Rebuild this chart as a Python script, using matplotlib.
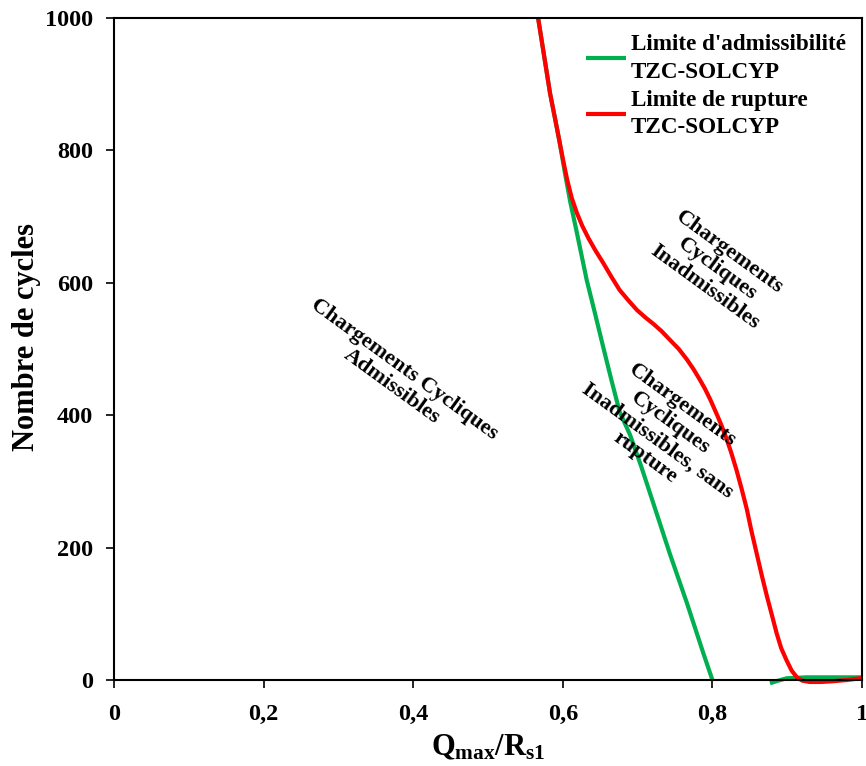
import matplotlib
matplotlib.use("Agg")
import matplotlib.pyplot as plt

plt.rcParams['font.family'] = ['Liberation Serif', 'DejaVu Serif']
plt.rcParams['font.weight'] = 'bold'
plt.rcParams['mathtext.fontset'] = 'custom'
plt.rcParams['mathtext.rm'] = 'Liberation Serif:bold'
plt.rcParams['mathtext.it'] = 'Liberation Serif:bold'
plt.rcParams['mathtext.bf'] = 'Liberation Serif:bold'

# limite d'admissibilite (green)
adm_x = [0.567, 0.575, 0.583, 0.590, 0.596, 0.603, 0.610, 0.618, 0.625, 0.632,
         0.643, 0.654, 0.665, 0.676, 0.690, 0.705, 0.721, 0.743, 0.766, 0.788,
         0.800]
adm_y = [1000, 943, 886, 846, 811, 765, 722, 680, 642, 604, 554, 503, 453, 405,
         370, 322, 267, 191, 116, 40, 0]
adm_tail_x = [0.877, 0.888, 0.899, 0.926, 0.96, 1.0]
adm_tail_y = [-5, -1, 2.5, 4, 4, 4]

# limite de rupture (red)
rup_x = [0.567, 0.575, 0.583, 0.590, 0.596, 0.601, 0.606, 0.612, 0.619, 0.626,
         0.634, 0.643, 0.654, 0.665, 0.676, 0.688, 0.699, 0.710, 0.721, 0.732,
         0.743, 0.755, 0.766, 0.775, 0.783, 0.790, 0.797, 0.806, 0.812, 0.819,
         0.825, 0.832, 0.839, 0.846, 0.852, 0.859, 0.866, 0.873, 0.880, 0.886,
         0.892, 0.899, 0.906, 0.913, 0.920, 0.930, 0.945, 0.960, 0.980, 1.0]
rup_y = [1000, 943, 886, 846, 811, 782, 755, 728, 705, 686,
         668, 650, 630, 609, 589, 573, 559, 548, 538, 527,
         514, 500, 484, 469, 454, 440, 424, 401, 385, 364,
         344, 318, 289, 258, 226, 192, 158, 126, 96, 70,
         48, 30, 14, 4, -1, -3, -3, -2, 0, 3]

x_ticks = [0, 0.2, 0.4, 0.6, 0.8, 1.0]
x_tick_labels = ["0", "0,2", "0,4", "0,6", "0,8", "1"]
y_ticks = [0, 200, 400, 600, 800, 1000]

fig = plt.figure(figsize=(8.66, 7.66), dpi=100)
ax = fig.add_axes([0.1316, 0.1123, 0.8638, 0.8642])

green = "#00b050"
red = "#ff0000"
ax.plot(adm_x, adm_y, color=green, lw=3, clip_on=False,
        solid_capstyle='butt', label="Limite d'admissibilité\nTZC-SOLCYP")
ax.plot(adm_tail_x, adm_tail_y, color=green, lw=3, clip_on=False,
        solid_capstyle='butt')
ax.plot(rup_x, rup_y, color=red, lw=3, clip_on=False,
        solid_capstyle='butt', label="Limite de rupture\nTZC-SOLCYP")

ax.set_xlim(0, 1)
ax.set_ylim(0, 1000)
ax.set_xticks(x_ticks)
ax.set_xticklabels(x_tick_labels)
ax.set_yticks(y_ticks)
ax.tick_params(direction='out', length=6, width=1.2, labelsize=17.5)
ax.tick_params(axis='x', pad=11)
ax.tick_params(axis='y', pad=9)
for s in ax.spines.values():
    s.set_linewidth(1.5)
    s.set_color('black')

ax.set_xlabel(r'$\mathbf{Q_{max}/R_{s1}}$', fontsize=22, labelpad=6)
ax.set_ylabel("Nombre de cycles", fontsize=22, fontweight='bold', labelpad=3)
ax.yaxis.set_label_coords(-0.098, 0.518)

ax.text(0.38, 456, "Chargements Cycliques\nAdmissibles", rotation=-36,
        ha='center', va='center', fontsize=16, fontweight='bold',
        rotation_mode='anchor', linespacing=1.1)
ax.text(0.806, 620, "Chargements\nCycliques\nInadmissibles", rotation=-36,
        ha='center', va='center', fontsize=16, fontweight='bold',
        rotation_mode='anchor', linespacing=1.1)
ax.text(0.735, 375, "Chargements\nCycliques\nInadmissibles, sans\nrupture",
        rotation=-36, ha='center', va='center', fontsize=16,
        fontweight='bold', rotation_mode='anchor', linespacing=1.1)

leg = ax.legend(loc='upper right', frameon=False, fontsize=16.7,
                handlelength=1.75, handletextpad=0.2, borderaxespad=0.3,
                labelspacing=0.3)
for t in leg.get_texts():
    t.set_linespacing(1.4)

fig.savefig("out.png", dpi=100)
